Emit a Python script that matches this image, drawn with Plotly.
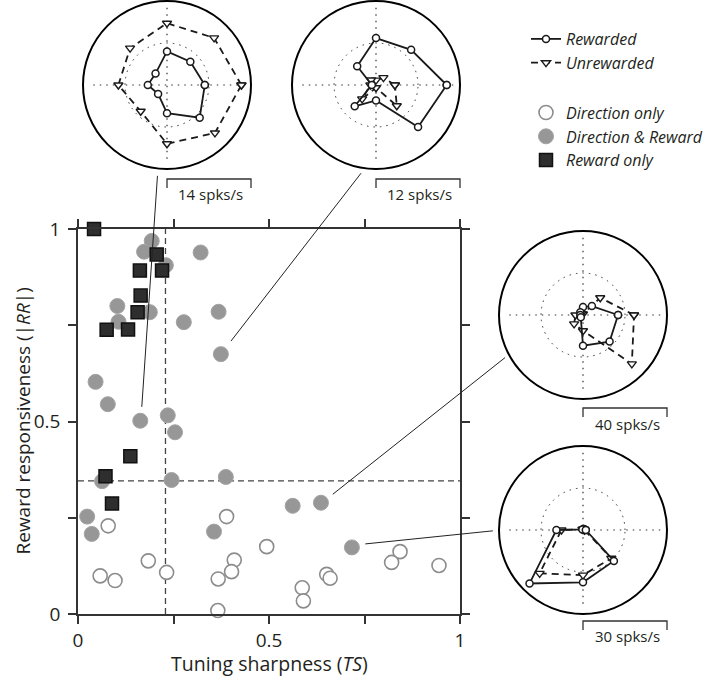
import plotly.graph_objects as go

W, H = 720, 682
FONT = "Open Sans"
INK = "#231f20"

# ---------------- main scatter data ----------------
dir_only_ts = [0.079, 0.389, 0.494, 0.184, 0.409, 0.402, 0.058, 0.097, 0.232, 0.367,
               0.366, 0.843, 0.821, 0.945, 0.651, 0.660, 0.587, 0.590]
dir_only_rr = [0.229, 0.253, 0.175, 0.138, 0.140, 0.110, 0.099, 0.087, 0.108, 0.091,
               0.009, 0.162, 0.134, 0.126, 0.103, 0.093, 0.068, 0.034]
dir_rew_ts = [0.193, 0.173, 0.230, 0.321, 0.103, 0.106, 0.188, 0.277, 0.368, 0.374,
              0.046, 0.078, 0.163, 0.235, 0.254, 0.063, 0.245, 0.387, 0.024, 0.036,
              0.356, 0.562, 0.636, 0.717]
dir_rew_rr = [0.969, 0.941, 0.906, 0.939, 0.800, 0.759, 0.784, 0.758, 0.785, 0.675,
              0.603, 0.545, 0.502, 0.516, 0.472, 0.345, 0.348, 0.356, 0.253, 0.208,
              0.214, 0.281, 0.289, 0.173]
rew_only_ts = [0.042, 0.206, 0.162, 0.220, 0.164, 0.156, 0.075, 0.131, 0.137, 0.072, 0.089]
rew_only_rr = [1.000, 0.934, 0.892, 0.892, 0.827, 0.784, 0.738, 0.739, 0.410, 0.358, 0.287]

ts_threshold = 0.229
rr_threshold = 0.346

tick_vals = [0, 0.25, 0.5, 0.75, 1]
tick_text = ["0", "", "0.5", "", "1"]

# ---------------- polar insets data (spks/s) ----------------
directions = [0, 45, 90, 135, 180, 225, 270, 315]
inset_scales = [14, 12, 40, 30]
inset_labels = ["14 spks/s", "12 spks/s", "40 spks/s", "30 spks/s"]
inset1_rewarded = [6.3, 5.5, 5.6, 2.7, 3.2, 2.1, 4.7, 7.7]
inset1_unrewarded = [12.4, 11.1, 10.3, 8.7, 8.1, 6.2, 9.8, 11.3]
inset2_rewarded = [10.1, 7.1, 6.7, 3.8, 0.6, 4.3, 2.2, 8.5]
inset2_unrewarded = [2.7, 1.5, 0.7, 1.0, 0.8, 2.8, 0.4, 4.2]
inset3_rewarded = [16.7, 6.0, 3.8, 1.8, 1.3, 1.5, 14.6, 17.9]
inset3_unrewarded = [24.3, 11.6, 0.5, 1.0, 3.6, 6.0, 7.5, 32.9]
inset4_rewarded = [1.0, 0.5, 0.3, 0.3, 9.5, 27.0, 18.7, 15.6]
inset4_unrewarded = [0.5, 0.4, 0.3, 0.3, 7.7, 21.9, 16.1, 14.3]
inset_rewarded = [inset1_rewarded, inset2_rewarded, inset3_rewarded, inset4_rewarded]
inset_unrewarded = [inset1_unrewarded, inset2_unrewarded, inset3_unrewarded, inset4_unrewarded]

# ---------------- layout geometry (pixels) ----------------
MX0, MX1 = 78, 460      # main axes left/right
MYT, MYB = 229, 614     # main axes top/bottom
INSETS = [  # centre x, centre y, radius, scale-bar y, label y
    dict(cx=167, cy=85, r=84, bar=179, lab=194),
    dict(cx=376, cy=85, r=84, bar=179, lab=194),
    dict(cx=583, cy=315, r=84, bar=408, lab=424),
    dict(cx=583, cy=530, r=84, bar=621, lab=636),
]
# connector lines, in main-axes data units (start near inset -> end near point)
CONNECTORS = [
    ((0.208, 1.138), (0.167, 0.538)),
    ((0.741, 1.145), (0.4005, 0.709)),
    ((1.118, 0.666), (0.667, 0.311)),
    ((1.086, 0.216), (0.752, 0.182)),
]


def px(x):
    return x / W


def py(y):
    return 1 - y / H


def main_to_paper(x, y):
    return (px(MX0) + x * (px(MX1) - px(MX0)), py(MYB) + y * (py(MYT) - py(MYB)))


fig = go.Figure()

LINE_COL = "#1a1a1a"
GRID_DASH = "1.5px,5px"

# ---------------- polar insets ----------------
for i in range(4):
    sub = "polar" if i == 0 else f"polar{i + 1}"
    R = inset_scales[i]
    th = directions + [directions[0]]
    # dotted crosshair
    for a in (0, 90):
        fig.add_trace(go.Scatterpolar(
            r=[0.92 * R, 0, 0.92 * R], theta=[a, a, a + 180], mode="lines",
            line=dict(color="#333", width=1.2, dash=GRID_DASH),
            subplot=sub, showlegend=False, hoverinfo="skip"))
    ur = inset_unrewarded[i] + [inset_unrewarded[i][0]]
    rr = inset_rewarded[i] + [inset_rewarded[i][0]]
    fig.add_trace(go.Scatterpolar(
        r=ur, theta=th, mode="lines+markers", subplot=sub,
        name="<i>Unrewarded</i>", legendgroup="resp", legendrank=2, showlegend=(i == 0),
        line=dict(color=LINE_COL, width=1.8, dash="7px,5px"),
        marker=dict(symbol="triangle-down", size=8, color="white",
                    line=dict(color=LINE_COL, width=1.4))))
    fig.add_trace(go.Scatterpolar(
        r=rr, theta=th, mode="lines+markers", subplot=sub,
        name="<i>Rewarded</i>", legendgroup="resp", legendrank=1, showlegend=(i == 0),
        line=dict(color=LINE_COL, width=1.8),
        marker=dict(symbol="circle", size=7, color="white",
                    line=dict(color=LINE_COL, width=1.5))))

# ---------------- main scatter ----------------
fig.add_trace(go.Scatter(
    x=[ts_threshold, ts_threshold], y=[0, 1], mode="lines",
    line=dict(color="#444", width=1.3, dash="6px,4px"),
    showlegend=False, hoverinfo="skip", xaxis="x", yaxis="y"))
fig.add_trace(go.Scatter(
    x=[0, 1], y=[rr_threshold, rr_threshold], mode="lines",
    line=dict(color="#444", width=1.3, dash="6px,4px"),
    showlegend=False, hoverinfo="skip", xaxis="x", yaxis="y"))

fig.add_trace(go.Scatter(
    x=dir_only_ts, y=dir_only_rr, mode="markers", cliponaxis=False,
    name="<i>Direction only</i>", legendgroup="cls", legendrank=3,
    marker=dict(symbol="circle", size=14, color="white",
                line=dict(color="#8c8c8c", width=1.6))))
fig.add_trace(go.Scatter(
    x=dir_rew_ts, y=dir_rew_rr, mode="markers", cliponaxis=False,
    name="<i>Direction & Reward</i>", legendgroup="cls", legendrank=4,
    marker=dict(symbol="circle", size=15, color="#979797",
                line=dict(color="#a3a3a3", width=1))))
fig.add_trace(go.Scatter(
    x=rew_only_ts, y=rew_only_rr, mode="markers", cliponaxis=False,
    name="<i>Reward only</i>", legendgroup="cls", legendrank=5,
    marker=dict(symbol="square", size=13, color="#2e2e2e",
                line=dict(color="#111", width=1.5))))

# ---------------- axes ----------------
axis_common = dict(
    range=[0, 1], tickvals=tick_vals, ticktext=tick_text,
    ticks="outside", ticklen=8, tickwidth=1.5, tickcolor="#333",
    showline=True, linecolor="#333", linewidth=1.5, mirror="ticks",
    showgrid=False, zeroline=False, tickfont=dict(family=FONT, size=19, color=INK),
    fixedrange=True, automargin=False)
layout = dict(
    width=W, height=H, margin=dict(l=0, r=0, t=0, b=0, autoexpand=False),
    paper_bgcolor="white", plot_bgcolor="white",
    font=dict(family=FONT, color=INK),
    xaxis=dict(domain=[px(MX0), px(MX1)], anchor="y", **axis_common),
    yaxis=dict(domain=[py(MYB), py(MYT)], anchor="x", ticklabelstandoff=4, **axis_common),
    legend=dict(x=px(526), y=py(22), xanchor="left", yanchor="top",
                traceorder="grouped", tracegroupgap=26, bgcolor="rgba(0,0,0,0)",
                font=dict(family=FONT, size=16, color=INK, style="italic")),
    showlegend=True,
)

shapes = []
annotations = []
for i, g in enumerate(INSETS):
    sub = "polar" if i == 0 else f"polar{i + 1}"
    R = inset_scales[i]
    layout[sub] = dict(
        domain=dict(x=[px(g["cx"] - g["r"]), px(g["cx"] + g["r"])],
                    y=[py(g["cy"] + g["r"]), py(g["cy"] - g["r"])]),
        bgcolor="rgba(0,0,0,0)",
        radialaxis=dict(range=[0, R], showline=False, showticklabels=False, ticks="",
                        tickvals=[R / 2], showgrid=True, gridcolor="#333",
                        gridwidth=1.2, griddash=GRID_DASH),
        angularaxis=dict(showline=True, linecolor="black", linewidth=2,
                         showgrid=False, showticklabels=False, ticks=""),
    )
    # scale bar: from centre to radius
    x0, x1 = px(g["cx"]), px(g["cx"] + g["r"])
    yb, yt = py(g["bar"]), py(g["bar"] + 9)
    shapes.append(dict(type="path", xref="paper", yref="paper",
                       path=f"M {x0},{yt} L {x0},{yb} L {x1},{yb} L {x1},{yt}",
                       line=dict(color="#333", width=1.3)))
    annotations.append(dict(x=(x0 + x1) / 2 + px(2), y=py(g["lab"]), xref="paper", yref="paper",
                            text=inset_labels[i], showarrow=False,
                            font=dict(family=FONT, size=15, color=INK),
                            xanchor="center", yanchor="middle"))

for (a, b) in CONNECTORS:
    (xa, ya), (xb, yb2) = main_to_paper(*a), main_to_paper(*b)
    shapes.append(dict(type="line", xref="paper", yref="paper", x0=xa, y0=ya, x1=xb, y1=yb2,
                       line=dict(color="#222", width=1)))

annotations.append(dict(x=px((MX0 + MX1) / 2), y=py(663), xref="paper", yref="paper",
                        text="Tuning sharpness (<i>TS</i>)", showarrow=False,
                        font=dict(family=FONT, size=19.5, color=INK),
                        xanchor="center", yanchor="middle"))
annotations.append(dict(x=px(22), y=py((MYT + MYB) / 2), xref="paper", yref="paper",
                        text="Reward responsiveness (|<i>RR</i>|)", showarrow=False,
                        textangle=-90, font=dict(family=FONT, size=19, color=INK),
                        xanchor="center", yanchor="middle"))

layout["shapes"] = shapes
layout["annotations"] = annotations
fig.update_layout(**layout)

fig.write_html("out.html", config={"displayModeBar": False},
               post_script="document.body.style.margin='0px';document.body.style.overflow='hidden';")
